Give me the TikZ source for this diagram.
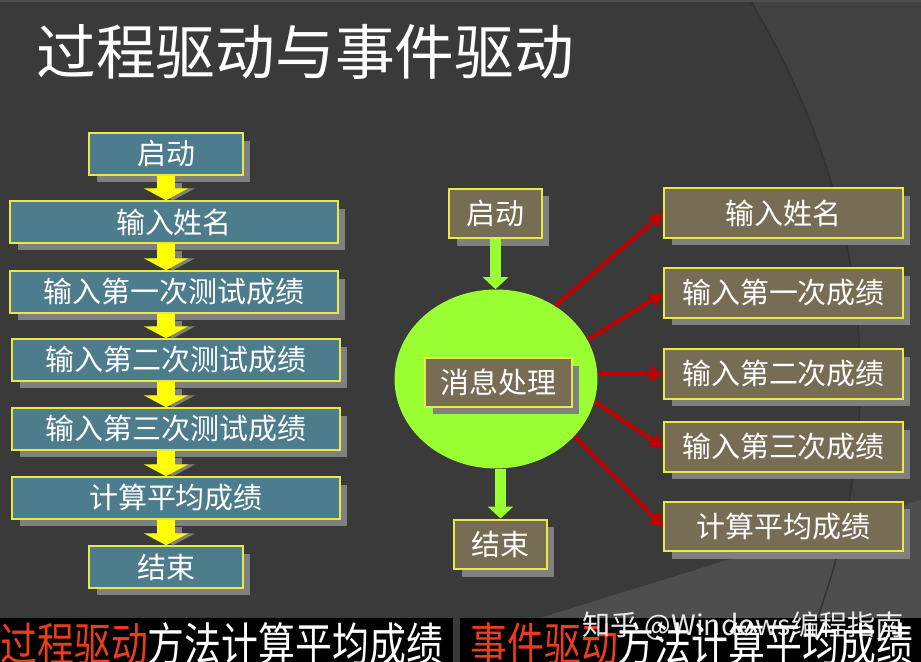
\documentclass[tikz,border=0pt]{standalone}
\usepackage{fontspec}
\usepackage{graphicx}
\newfontfamily\cjk{Noto Sans CJK SC}
\usetikzlibrary{arrows.meta,shapes.geometric,shadows}
\definecolor{DrvBg}{RGB}{58,58,58}
\definecolor{DrvBgLight}{RGB}{65,65,65}
\definecolor{DrvWedge}{RGB}{78,78,78}
\definecolor{DrvArc}{RGB}{50,50,50}
\definecolor{DrvTeal}{RGB}{77,124,140}
\definecolor{DrvOlive}{RGB}{119,108,84}
\definecolor{DrvEdge}{RGB}{232,232,70}
\definecolor{DrvShade}{RGB}{128,128,128}
\definecolor{DrvYellow}{RGB}{255,255,0}
\definecolor{DrvGreen}{RGB}{153,255,51}
\definecolor{DrvRed}{RGB}{192,0,0}
\definecolor{DrvOrange}{RGB}{235,60,30}

\begin{document}
\begin{tikzpicture}[x=0.02cm,y=-0.02cm,>=Stealth]
        \tikzset{stepbox/.style={draw=DrvEdge,line width=0.04cm,fill=DrvTeal,text=white,inner sep=0pt,minimum height=0.83cm,font=\cjk\fontsize{16.5}{18}\selectfont,general shadow={fill=DrvShade,shadow xshift=0.15cm,shadow yshift=-0.15cm}},evbox/.style={stepbox,fill=DrvOlive,minimum height=1.0cm},flowarrow/.style={DrvYellow,line width=0.36cm,-{Triangle[width=0.88cm,length=0.24cm]}},flowshade/.style={flowarrow,DrvShade,shorten >=0.14cm,transform canvas={shift={(7,7)}}},goarrow/.style={DrvGreen,line width=0.22cm,-{Triangle[width=0.5cm,length=0.24cm]}},msgarrow/.style={DrvRed,line width=0.08cm,-{Triangle[width=0.3cm,length=0.26cm]}},caption/.style={anchor=base west,inner sep=0pt,text=white,font=\cjk\fontsize{21}{24}\selectfont}}
        \useasboundingbox (0,0) rectangle (921,662);
        \clip (0,0) rectangle (921,662);
        % background
        \fill[DrvBg] (0,0) rectangle (921,662);
        \fill[DrvBgLight] (750,0) .. controls (870,200) and (900,430) .. (800,662) -- (921,662) -- (921,0) -- cycle;
        \fill[DrvWedge] (540,618) -- (921,500) -- (921,618) -- cycle;
        \draw[DrvArc,line width=0.03cm] (750,0) .. controls (870,200) and (900,430) .. (800,662);
        \fill[DrvWedge] (0,0) rectangle (921,2);
        \node[anchor=west,inner sep=0pt,text=white,font=\cjk\fontsize{34}{40}\selectfont] (title) at (36,52) {过程驱动与事件驱动};
        % process driven
        \node[stepbox,minimum width=3.08cm] (pstart) at (166,154) {启动};
        \node[stepbox,minimum width=6.56cm] (pname) at (174,222) {输入姓名};
        \node[stepbox,minimum width=6.56cm] (pone) at (174,292) {输入第一次测试成绩};
        \node[stepbox,minimum width=6.56cm] (ptwo) at (176,360) {输入第二次测试成绩};
        \node[stepbox,minimum width=6.56cm] (pthree) at (176,429) {输入第三次测试成绩};
        \node[stepbox,minimum width=6.56cm] (pavg) at (176,498) {计算平均成绩};
        \node[stepbox,minimum width=3.08cm] (pend) at (166,567) {结束};
        \foreach \a/\b in {pstart/pname,pname/pone,pone/ptwo,ptwo/pthree,pthree/pavg,pavg/pend}{
          \draw[flowshade] (pstart.south |- \a.south) -- (pstart.south |- \b.north);
          \draw[flowarrow] (pstart.south |- \a.south) -- (pstart.south |- \b.north);
        }
        % event driven
        \node[evbox,minimum width=1.86cm] (estart) at (495.5,213.5) {启动};
        \node[ellipse,fill=DrvGreen,inner sep=0pt,minimum width=4.06cm,minimum height=3.58cm] (hub) at (496,379) {};
        \node[evbox,minimum width=2.94cm,minimum height=0.98cm] (msg) at (498.5,382.5) {消息处理};
        \node[evbox,minimum width=1.86cm] (eend) at (500.5,544.5) {结束};
        \node[evbox,minimum width=4.78cm] (ename) at (783.5,213) {输入姓名};
        \node[evbox,minimum width=4.78cm] (eone) at (783.5,293) {输入第一次成绩};
        \node[evbox,minimum width=4.78cm] (etwo) at (783.5,374) {输入第二次成绩};
        \node[evbox,minimum width=4.78cm] (ethree) at (783.5,447) {输入第三次成绩};
        \node[evbox,minimum width=4.78cm] (eavg) at (783.5,526.5) {计算平均成绩};
        \draw[goarrow] (estart.south) -- (estart.south |- hub.north);
        \draw[goarrow] (eend.north |- hub.south) -- (eend.north);
        \draw[msgarrow] (hub.51) -- (ename.west);
        \draw[msgarrow] (hub.23) -- (eone.west);
        \draw[msgarrow] (etwo.west -| hub.east) -- (etwo.west);
        \draw[msgarrow] (hub.-13) -- (ethree.west);
        \draw[msgarrow] (hub.-36) -- (eavg.west);
        % captions
        \fill[black] (0,618) rectangle (453,662);
        \fill[black] (460,618) rectangle (921,662);
        \node[caption] (lcap) at (0,662) {\scalebox{1}[1.25]{\textcolor{DrvOrange}{过程驱动}方法计算平均成绩}};
        \node[caption] (rcap) at (470,662) {\scalebox{1}[1.25]{\textcolor{DrvOrange}{事件驱动}方法计算平均成绩}};
        \node[anchor=base west,inner sep=0pt,text=white,opacity=0.9,font=\cjk\fontsize{16}{18}\selectfont] (mark) at (582,636) {知乎 @Windows编程指南};
      \end{tikzpicture}
\end{document}
